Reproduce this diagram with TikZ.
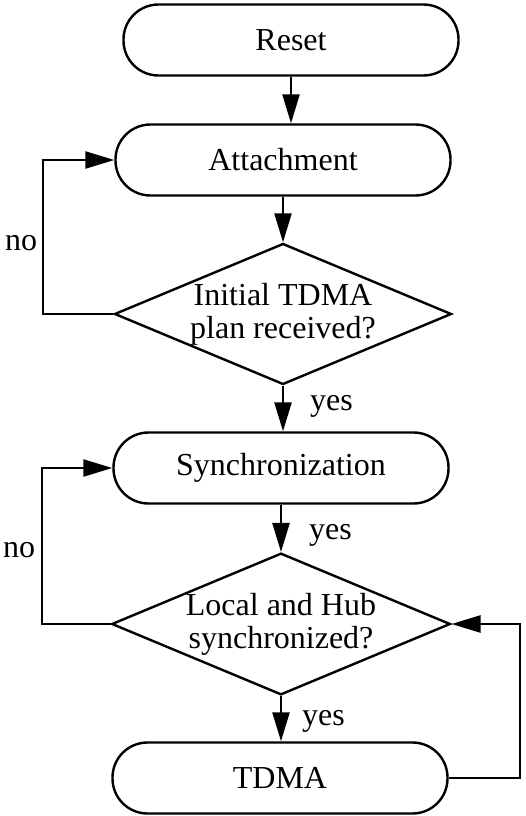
\documentclass[tikz,border=0pt]{standalone}
\usepackage{fontspec}
\setmainfont{Liberation Serif}
\usetikzlibrary{arrows.meta,shapes.geometric}
\begin{document}
\begin{tikzpicture}[x=1pt,y=-1pt,
 state/.style={draw, line width=2.4pt, rectangle, rounded corners=35pt, minimum width=335pt, minimum height=71pt, inner sep=0pt, font=\fontsize{32}{35}\selectfont},
 test/.style={draw, line width=2.4pt, diamond, aspect=2.39, minimum width=337pt, minimum height=141pt, inner sep=0pt, align=center, font=\fontsize{32}{33}\selectfont},
 flow/.style={line width=2.4pt, -{Triangle[length=29pt,width=17pt]}},
 lbl/.style={font=\fontsize{32}{35}\selectfont, inner sep=0pt}]
\useasboundingbox (0,0) rectangle (526,816);
\node[state] (reset) at (291,40) {Reset};
\node[state] (att) at (283,160) {Attachment};
\node[test] (d1) at (283,314) {Initial TDMA\\plan received?};
\node[state] (sync) at (281,468) {Synchronization};
\node[test] (d2) at (281,624) {Local and Hub\\synchronized?};
\node[state] (tdma) at (280,778) {TDMA};
\coordinate (l1) at (43,0);
\coordinate (l2) at (42,0);
\coordinate (r) at (520,0);
\draw[flow] (reset.south) -- (reset.south |- att.north);
\draw[flow] (att.south) -- (att.south |- d1.north);
\draw[flow] (d1.south) -- (d1.south |- sync.north);
\draw[flow] (sync.south) -- (sync.south |- d2.north);
\draw[flow] (d2.south) -- (d2.south |- tdma.north);
\draw[flow] (d1.west) -- (d1.west -| l1) |- (att.west);
\draw[flow] (d2.west) -- (d2.west -| l2) |- (sync.west);
\draw[flow] (tdma.east) -- (tdma.east -| r) |- (d2.east);
\node[lbl, anchor=base west] (no1) at (5,250) {no};
\node[lbl, anchor=base west] (no2) at (3,557) {no};
\node[lbl, anchor=base west] (yes1) at (310,410) {yes};
\node[lbl, anchor=base west] (yes2) at (309,539) {yes};
\node[lbl, anchor=base west] (yes3) at (302,725) {yes};
\end{tikzpicture}
\end{document}
